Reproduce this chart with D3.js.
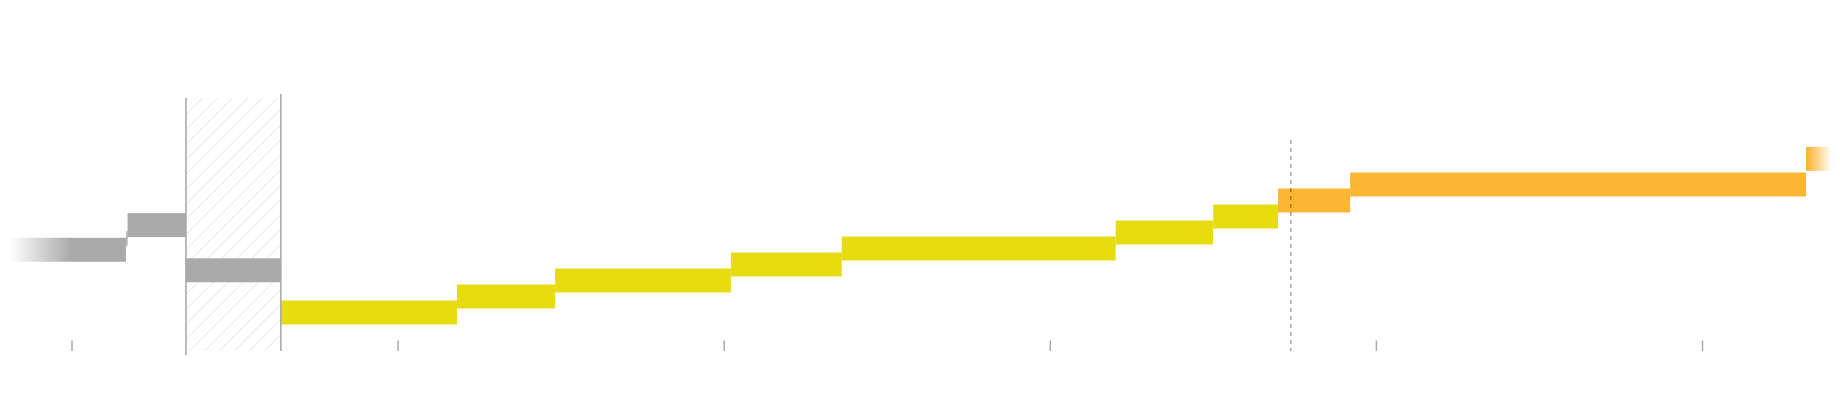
<!DOCTYPE html>
<html>
<head>
<meta charset="utf-8">
<script src="https://cdn.jsdelivr.net/npm/d3@7"></script>
<style>
  html, body { margin: 0; padding: 0; background: #fff; }
  svg { display: block; }
</style>
</head>
<body>
<svg id="chart" width="1840" height="404"></svg>
<script>
// ---- data ----
const segStart = [-1.89, 1.72, 3.51, 6.42, 11.82, 14.83, 20.22, 23.62, 32.02, 35.01, 37.00, 39.21, 53.19];
const segEnd   = [ 1.67, 3.51, 6.42, 11.82, 14.83, 20.22, 23.62, 32.02, 35.01, 37.00, 39.21, 53.19, 54.00];
const segLevel = [ 4.92, 6.46, 3.64, 1.00, 2.00, 3.00, 4.00, 5.00, 6.00, 7.00, 8.00, 9.00, 10.60];
const segGroup = ["past","past","past","current","current","current","current","current","current","current","future","future","future"];
const tickValues = [0, 10, 20, 30, 40, 50];
const gapStart = 3.51, gapEnd = 6.42;   // hatched interval
const markerValue = 37.39;               // dashed reference

// ---- layout ----
const W = 1840, H = 404;
const axisY = 351;
const barH = 24;
const x = d3.scaleLinear().domain([0, 50]).range([71.5, 1702]);
const y = d3.scaleLinear().domain([0, 12]).range([328.5, 136.5]);
const colors = { past: "#aaaaaa", current: "#e6dc10", future: "#fbb634" };

const svg = d3.select("#chart");
const defs = svg.append("defs");

// hatch pattern
const pat = defs.append("pattern")
  .attr("id", "hatch").attr("patternUnits", "userSpaceOnUse")
  .attr("width", 10.6).attr("height", 10.6)
  .attr("patternTransform", "rotate(45)");
pat.append("line").attr("x1", 0).attr("y1", 0).attr("x2", 0).attr("y2", 10.6)
  .attr("stroke", "#e8e8e8").attr("stroke-width", 2);

// fading gradients
const gl = defs.append("linearGradient").attr("id", "fadeLeft")
  .attr("gradientUnits", "userSpaceOnUse")
  .attr("x1", x(segStart[0])).attr("x2", x(0)).attr("y1", 0).attr("y2", 0);
gl.append("stop").attr("offset", 0).attr("stop-color", colors.past).attr("stop-opacity", 0);
gl.append("stop").attr("offset", 1).attr("stop-color", colors.past).attr("stop-opacity", 1);

const last = segStart.length - 1;
const gr = defs.append("linearGradient").attr("id", "fadeRight")
  .attr("gradientUnits", "userSpaceOnUse")
  .attr("x1", x(segStart[last]) + 2).attr("x2", x(segEnd[last]) - 1).attr("y1", 0).attr("y2", 0);
gr.append("stop").attr("offset", 0).attr("stop-color", colors.future).attr("stop-opacity", 1);
gr.append("stop").attr("offset", 1).attr("stop-color", colors.future).attr("stop-opacity", 0);

// hatched gap region
svg.append("rect")
  .attr("x", x(gapStart)).attr("y", 98)
  .attr("width", x(gapEnd) - x(gapStart)).attr("height", axisY - 98)
  .attr("fill", "url(#hatch)");

// bars
const segs = segStart.map((s, i) => ({ s, e: segEnd[i], v: segLevel[i], g: segGroup[i], i }));
svg.append("g").selectAll("rect").data(segs).join("rect")
  .attr("x", d => x(d.s))
  .attr("y", d => y(d.v) - barH / 2)
  .attr("width", d => x(d.e) - x(d.s))
  .attr("height", barH)
  .attr("fill", d => d.i === 0 ? "url(#fadeLeft)" : d.i === last ? "url(#fadeRight)" : colors[d.g]);

// small connector between the first two segments
svg.append("line")
  .attr("x1", x(segEnd[0]) + 0.8).attr("x2", x(segStart[1]) - 0.5)
  .attr("y1", y(segLevel[0]) - barH / 2 + 8).attr("y2", y(segLevel[1]) + barH / 2 - 6)
  .attr("stroke", colors.past).attr("stroke-width", 1.5);

// gap boundaries
svg.append("line").attr("x1", x(gapStart)).attr("x2", x(gapStart))
  .attr("y1", 98).attr("y2", 355).attr("stroke", "#aaaaaa").attr("stroke-width", 1.6);
svg.append("line").attr("x1", x(gapEnd)).attr("x2", x(gapEnd))
  .attr("y1", 94).attr("y2", axisY).attr("stroke", "#aaaaaa").attr("stroke-width", 1.6);

// axis ticks
const axis = d3.axisTop(x).tickValues(tickValues).tickSize(10.5).tickFormat("");
const ag = svg.append("g").attr("transform", `translate(0,${axisY})`).call(axis);
ag.select(".domain").remove();
ag.selectAll(".tick line").attr("stroke", "#aaaaaa").attr("stroke-width", 1.5);

// dashed marker
svg.append("line")
  .attr("x1", x(markerValue)).attr("x2", x(markerValue))
  .attr("y1", 140).attr("y2", axisY)
  .attr("stroke", "#000").attr("stroke-opacity", 0.35)
  .attr("stroke-width", 1.5).attr("stroke-dasharray", "4,4");
</script>
</body>
</html>
